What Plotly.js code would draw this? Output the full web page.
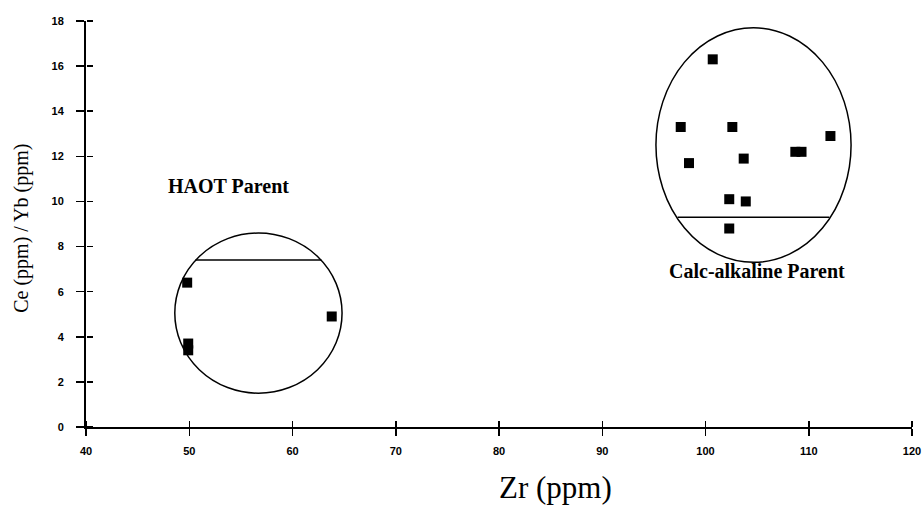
<!DOCTYPE html>
<html>
<head>
<meta charset="utf-8">
<script src="https://cdn.plot.ly/plotly-3.0.1.min.js"></script>
<style>html,body{margin:0;padding:0;background:#fff;}#chart{width:922px;height:505px;}</style>
</head>
<body>
<div id="chart"></div>
<script>
// HAOT parent samples
const haotZr = [49.8, 49.9, 49.9, 63.8];
const haotRatio = [6.4, 3.7, 3.4, 4.9];
// Calc-alkaline parent samples
const calcZr = [100.7, 97.6, 102.6, 112.1, 108.7, 109.3, 103.7, 98.4, 102.3, 103.9, 102.3];
const calcRatio = [16.3, 13.3, 13.3, 12.9, 12.2, 12.2, 11.9, 11.7, 10.1, 10.0, 8.8];
// group envelopes [x0, x1, y0, y1]
const haotEnvelope = [48.6, 64.8, 1.5, 8.6];
const calcEnvelope = [95.2, 114.1, 7.3, 17.7];
// divider lines [x0, x1, y]
const haotDivider = [50.6, 62.8, 7.4];
const calcDivider = [97.3, 112.0, 9.3];
// labels
const groupNames = ["HAOT Parent", "Calc-alkaline Parent"];
const groupLabelX = [53.8, 105.0];
const groupLabelY = [10.7, 6.9];
const xTitle = "Zr (ppm)";
const yTitle = "Ce (ppm) / Yb (ppm)";
const xTicks = [40, 50, 60, 70, 80, 90, 100, 110, 120];
const yTicks = [0, 2, 4, 6, 8, 10, 12, 14, 16, 18];

const marker = {symbol: 'square', size: 10, color: '#000'};
const traces = [
  {x: haotZr, y: haotRatio, type: 'scatter', mode: 'markers', marker: marker, name: groupNames[0]},
  {x: calcZr, y: calcRatio, type: 'scatter', mode: 'markers', marker: marker, name: groupNames[1]},
  // invisible trace to activate the helper axes for the inner half of the crossing ticks
  {x: [xTicks[0]], y: [yTicks[0]], xaxis: 'x2', yaxis: 'y2', type: 'scatter', mode: 'markers', marker: {opacity: 0}, hoverinfo: 'skip', showlegend: false}
];

const tickFont = {family: 'Liberation Sans, Arial, sans-serif', size: 11, color: '#000', weight: 'bold'};
const serif = 'Liberation Serif, Times New Roman, serif';
const lineStyle = {color: '#000', width: 1.5};

function envelopeShape(e) {
  return {type: 'circle', xref: 'x', yref: 'y', x0: e[0], x1: e[1], y0: e[2], y1: e[3], line: lineStyle};
}
function dividerShape(d) {
  return {type: 'line', xref: 'x', yref: 'y', x0: d[0], x1: d[1], y0: d[2], y1: d[2], line: lineStyle};
}

const layout = {
  width: 922, height: 505,
  margin: {l: 86, r: 10, t: 21, b: 78},
  paper_bgcolor: '#fff', plot_bgcolor: '#fff',
  font: {color: '#000'},
  showlegend: false,
  xaxis: {
    range: [40, 120], tickvals: xTicks, ticktext: xTicks.map(String),
    showgrid: false, zeroline: false, showline: true, linecolor: '#000', linewidth: 2,
    ticks: 'outside', ticklen: 7, tickwidth: 1.5, tickcolor: '#000',
    tickfont: tickFont, ticklabelstandoff: 6
  },
  yaxis: {
    range: [0, 18], tickvals: yTicks, ticktext: yTicks.map(String),
    showgrid: false, zeroline: false, showline: true, linecolor: '#000', linewidth: 2,
    ticks: 'outside', ticklen: 8, tickwidth: 1.5, tickcolor: '#000',
    tickfont: tickFont, ticklabelstandoff: 10
  },
  xaxis2: {
    overlaying: 'x', anchor: 'free', position: 0, side: 'top', range: [40, 120], tickvals: xTicks, showticklabels: false,
    showgrid: false, zeroline: false, showline: false,
    ticks: 'outside', ticklen: 6, tickwidth: 1.5, tickcolor: '#000'
  },
  yaxis2: {
    overlaying: 'y', anchor: 'free', position: 0, side: 'right', range: [0, 18], tickvals: yTicks, showticklabels: false,
    showgrid: false, zeroline: false, showline: false,
    ticks: 'outside', ticklen: 6, tickwidth: 1.5, tickcolor: '#000'
  },
  shapes: [envelopeShape(haotEnvelope), envelopeShape(calcEnvelope), dividerShape(haotDivider), dividerShape(calcDivider)],
  annotations: groupNames.map((t, i) => ({
    text: '<b>' + t + '</b>', x: groupLabelX[i], y: groupLabelY[i], xref: 'x', yref: 'y',
    showarrow: false, font: {family: serif, size: 20, color: '#000'}
  })).concat([{
    text: xTitle, xref: 'paper', yref: 'paper', x: 0.569, y: -0.15, xanchor: 'center', yanchor: 'middle',
    showarrow: false, font: {family: serif, size: 31, color: '#000'}
  }, {
    text: yTitle, xref: 'paper', yref: 'paper', x: -0.079, y: 0.49, xanchor: 'center', yanchor: 'middle',
    textangle: -90, showarrow: false, font: {family: serif, size: 20, color: '#000'}
  }])
};

Plotly.newPlot('chart', traces, layout, {displayModeBar: false, staticPlot: true});
</script>
</body>
</html>
